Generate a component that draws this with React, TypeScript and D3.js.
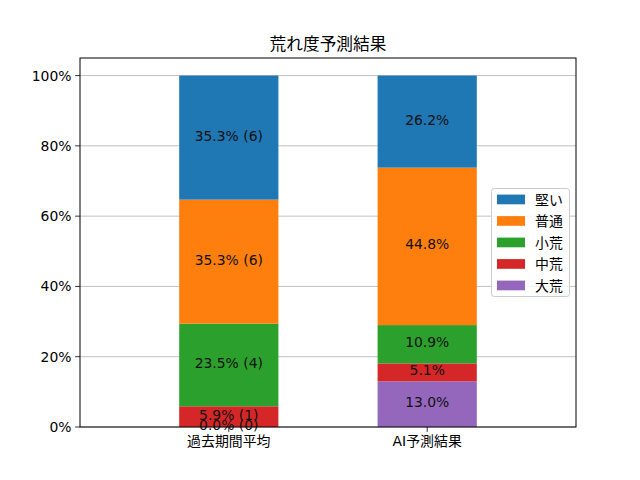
import React from "react";
import * as d3 from "d3";

const categories = ["過去期間平均", "AI予測結果"];
const seriesNames = ["大荒", "中荒", "小荒", "普通", "堅い"];
const seriesColors = ["#9467bd", "#d62728", "#2ca02c", "#ff7f0e", "#1f77b4"];
const pastValues = [0.0, 5.9, 23.5, 35.3, 35.3];
const pastCounts = [0, 1, 4, 6, 6];
const aiValues = [13.0, 5.1, 10.9, 44.8, 26.2];
const yTicks = [0, 20, 40, 60, 80, 100];
const legendOrder = ["堅い", "普通", "小荒", "中荒", "大荒"];
const title = "荒れ度予測結果";

const W = 640;
const H = 480;
const M = { left: 80, right: 576, top: 58, bottom: 427 };
const FONT = "'DejaVu Sans', 'Noto Sans CJK JP', sans-serif";

export default function App() {
  const x = d3.scaleLinear().domain([-0.75, 1.75]).range([M.left, M.right]);
  const y = d3.scaleLinear().domain([0, 105]).range([M.bottom, M.top]);
  const barW = x(0.5) - x(0);

  const bars = categories.map((cat, ci) => {
    const vals = ci === 0 ? pastValues : aiValues;
    let cum = 0;
    return vals.map((v, si) => {
      const y0 = cum;
      cum += v;
      const label =
        ci === 0
          ? `${v.toFixed(1)}% (${pastCounts[si]})`
          : `${v.toFixed(1)}%`;
      return { ci, si, y0, y1: cum, label };
    });
  });

  return (
    <svg
      width={W}
      height={H}
      style={{ position: "absolute", left: 0, top: 0, background: "#fff" }}
      fontFamily={FONT}
    >
      <rect x={0} y={0} width={W} height={H} fill="#fff" />
      {/* grid */}
      {yTicks.map((t) => (
        <line
          key={"g" + t}
          x1={M.left}
          x2={M.right}
          y1={y(t)}
          y2={y(t)}
          stroke="#b0b0b0"
          strokeWidth={0.8}
        />
      ))}
      {/* bars */}
      {bars.flat().map((b) => (
        <rect
          key={`b${b.ci}-${b.si}`}
          x={x(b.ci) - barW / 2}
          y={y(b.y1)}
          width={barW}
          height={y(b.y0) - y(b.y1)}
          fill={seriesColors[b.si]}
        />
      ))}
      {/* labels */}
      {bars.flat().map((b) => (
        <text
          key={`l${b.ci}-${b.si}`}
          x={x(b.ci)}
          y={(y(b.y0) + y(b.y1)) / 2 - 2}
          textAnchor="middle"
          dominantBaseline="central"
          fontSize={13.9}
          fill="#111"
        >
          {b.label}
        </text>
      ))}
      {/* axes frame */}
      <rect
        x={M.left}
        y={M.top}
        width={M.right - M.left}
        height={M.bottom - M.top}
        fill="none"
        stroke="#000"
        strokeWidth={1}
      />
      {/* y ticks */}
      {yTicks.map((t) => (
        <g key={"yt" + t}>
          <line x1={M.left - 4.9} x2={M.left} y1={y(t)} y2={y(t)} stroke="#000" strokeWidth={0.8} />
          <text
            x={M.left - 8.5}
            y={y(t)}
            textAnchor="end"
            dominantBaseline="central"
            fontSize={13.9}
            fill="#000"
          >
            {t}%
          </text>
        </g>
      ))}
      {/* x ticks */}
      {categories.map((c, i) => (
        <g key={"xt" + i}>
          <line x1={x(i)} x2={x(i)} y1={M.bottom} y2={M.bottom + 4.9} stroke="#000" strokeWidth={0.8} />
          <text
            x={x(i)}
            y={M.bottom + 8.5}
            textAnchor="middle"
            dominantBaseline="hanging"
            fontSize={13.9}
            fill="#000"
          >
            {c}
          </text>
        </g>
      ))}
      {/* title */}
      <text
        x={(M.left + M.right) / 2}
        y={M.top - 8}
        textAnchor="middle"
        fontSize={16.7}
        fill="#000"
      >
        {title}
      </text>
      {/* legend */}
      <g>
        <rect
          x={491.5}
          y={188.5}
          width={78}
          height={108}
          rx={2.8}
          fill="#fff"
          fillOpacity={0.8}
          stroke="#cccccc"
          strokeWidth={1}
        />
        {legendOrder.map((name, i) => {
          const si = seriesNames.indexOf(name);
          const cy = 199.5 + i * 21.5;
          return (
            <g key={"lg" + name}>
              <rect x={497} y={cy - 4.9} width={28} height={9.7} fill={seriesColors[si]} />
              <text x={535} y={cy} dominantBaseline="central" fontSize={13.9} fill="#000">
                {name}
              </text>
            </g>
          );
        })}
      </g>
    </svg>
  );
}
